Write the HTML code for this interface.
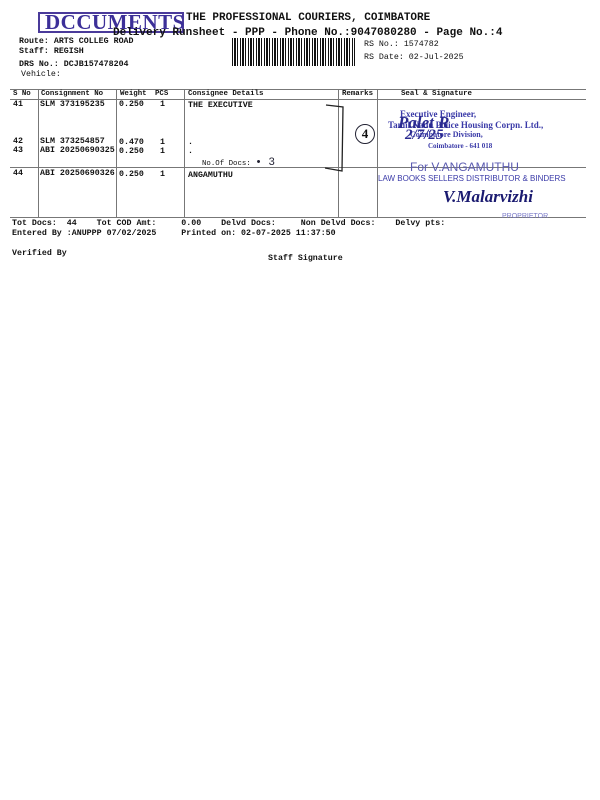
<!DOCTYPE html>
<html><head><meta charset="utf-8"><style>
body{margin:0;width:600px;height:800px;background:#fff;position:relative;overflow:hidden;font-family:"Liberation Mono",monospace;font-weight:bold;color:#111}
.t{position:absolute;white-space:pre;line-height:1}
.l{position:absolute;background:#777}
.s{font-size:7.4px}
.m{font-size:8.3px}
.b{font-size:11px}
.blue{color:#3a3aa8;font-family:"Liberation Serif",serif;font-weight:bold}
</style></head><body>
<div style="position:absolute;left:38px;top:12px;width:146px;height:21px;border:2px solid #4a3a9a;box-sizing:border-box"></div>
<div class="t" style="left:45px;top:12px;font-family:'Liberation Serif',serif;font-size:21px;color:#3c2f98;letter-spacing:0.5px">DCCUMENTS</div>
<div class="t b" style="left:186px;top:13px">THE PROFESSIONAL COURIERS, COIMBATORE</div>
<div class="t b" style="left:113px;top:28px">Delivery Runsheet - PPP - Phone No.:9047080280 - Page No.:4</div>
<div class="t m" style="left:19px;top:38px">Route: ARTS COLLEG ROAD</div>
<div class="t m" style="left:19px;top:48px">Staff: REGISH</div>
<div class="t m" style="left:19px;top:61px">DRS No.: DCJB157478204</div>
<div class="t m" style="left:21px;top:71px;font-weight:normal">Vehicle:</div>
<div style="position:absolute;left:232px;top:38px;width:123px;height:28px;background:repeating-linear-gradient(90deg,#111 0 1px,#fff 1px 2px,#111 2px 4px,#fff 4px 5px,#111 5px 6px,#fff 6px 8px)"></div>
<div class="t m" style="left:364px;top:41px;font-weight:normal">RS No.: 1574782</div>
<div class="t m" style="left:364px;top:54px;font-weight:normal">RS Date: 02-Jul-2025</div>

<div class="l" style="left:10px;top:89px;width:576px;height:1px"></div>
<div class="l" style="left:10px;top:99px;width:576px;height:1px"></div>
<div class="l" style="left:10px;top:167px;width:576px;height:1px"></div>
<div class="l" style="left:10px;top:217px;width:576px;height:1px"></div>
<div class="l" style="left:38px;top:89px;width:1px;height:128px"></div>
<div class="l" style="left:116px;top:89px;width:1px;height:128px"></div>
<div class="l" style="left:184px;top:89px;width:1px;height:128px"></div>
<div class="l" style="left:338px;top:89px;width:1px;height:128px"></div>
<div class="l" style="left:377px;top:89px;width:1px;height:128px"></div>

<div class="t s" style="left:13px;top:91px">S No</div>
<div class="t s" style="left:41px;top:91px">Consignment No</div>
<div class="t s" style="left:120px;top:91px">Weight</div>
<div class="t s" style="left:155px;top:91px">PCS</div>
<div class="t s" style="left:188px;top:91px">Consignee Details</div>
<div class="t s" style="left:342px;top:91px">Remarks</div>
<div class="t s" style="left:401px;top:91px">Seal &amp; Signature</div>

<div class="t m" style="left:13px;top:101px">41</div>
<div class="t m" style="left:40px;top:101px">SLM 373195235</div>
<div class="t m" style="left:119px;top:101px">0.250</div>
<div class="t m" style="left:160px;top:101px">1</div>
<div class="t m" style="left:188px;top:102px">THE EXECUTIVE</div>
<div class="t m" style="left:13px;top:138px">42</div>
<div class="t m" style="left:40px;top:138px">SLM 373254857</div>
<div class="t m" style="left:119px;top:139px">0.470</div>
<div class="t m" style="left:160px;top:139px">1</div>
<div class="t m" style="left:188px;top:139px">.</div>
<div class="t m" style="left:13px;top:147px">43</div>
<div class="t m" style="left:40px;top:147px">ABI 20250690325</div>
<div class="t m" style="left:119px;top:148px">0.250</div>
<div class="t m" style="left:160px;top:148px">1</div>
<div class="t m" style="left:188px;top:148px">.</div>
<div class="t s" style="left:202px;top:158px;font-weight:normal">No.Of Docs: <span style="color:#223;font-size:11px">• 3</span></div>
<div class="t m" style="left:13px;top:170px">44</div>
<div class="t m" style="left:40px;top:170px">ABI 20250690326</div>
<div class="t m" style="left:119px;top:171px">0.250</div>
<div class="t m" style="left:160px;top:171px">1</div>
<div class="t m" style="left:188px;top:172px">ANGAMUTHU</div>

<svg style="position:absolute;left:320px;top:98px" width="60" height="80"><path d="M6 7 L23 9 L22 73 L5 70" fill="none" stroke="#222" stroke-width="1.3"/></svg>
<div class="t" style="left:355px;top:124px;width:18px;height:18px;border:1.5px solid #223;border-radius:50%;font-size:13px;text-align:center;line-height:18px;font-family:'Liberation Serif',serif">4</div>
<div class="t blue" style="left:400px;top:110px;font-size:9px">Executive Engineer,</div>
<div class="t blue" style="left:388px;top:121px;font-size:9px">Tamil Nadu Police Housing Corpn. Ltd.,</div>
<div class="t blue" style="left:410px;top:131px;font-size:8px">Coimbatore Division,</div>
<div class="t blue" style="left:428px;top:143px;font-size:7px">Coimbatore - 641 018</div>
<div class="t" style="left:398px;top:114px;font-family:'Liberation Serif',serif;font-style:italic;font-size:17px;color:#2a2a90">Palet R</div>
<div class="t" style="left:405px;top:128px;font-family:'Liberation Serif',serif;font-style:italic;font-size:15px;color:#2a2a90">2/7/25</div>
<div class="t" style="left:410px;top:161px;font-family:'Liberation Sans',sans-serif;font-size:12px;color:#5a5ab0;font-weight:normal">For V.ANGAMUTHU</div>
<div class="t" style="left:378px;top:175px;font-family:'Liberation Sans',sans-serif;font-size:8px;color:#3a3aa8;font-weight:normal">LAW BOOKS SELLERS DISTRIBUTOR &amp; BINDERS</div>
<div class="t" style="left:443px;top:188px;font-family:'Liberation Serif',serif;font-style:italic;font-size:17px;color:#1a1a70">V.Malarvizhi</div>
<div class="t" style="left:502px;top:213px;font-family:'Liberation Sans',sans-serif;font-size:7px;color:#7a7ac8;font-weight:normal">PROPRIETOR</div>

<div class="t m" style="left:12px;top:220px">Tot Docs:  44    Tot COD Amt:     0.00    Delvd Docs:     Non Delvd Docs:    Delvy pts:</div>
<div class="t m" style="left:12px;top:230px">Entered By :ANUPPP 07/02/2025     Printed on: 02-07-2025 11:37:50</div>
<div class="t m" style="left:12px;top:250px">Verified By</div>
<div class="t m" style="left:268px;top:255px">Staff Signature</div>
</body></html>
